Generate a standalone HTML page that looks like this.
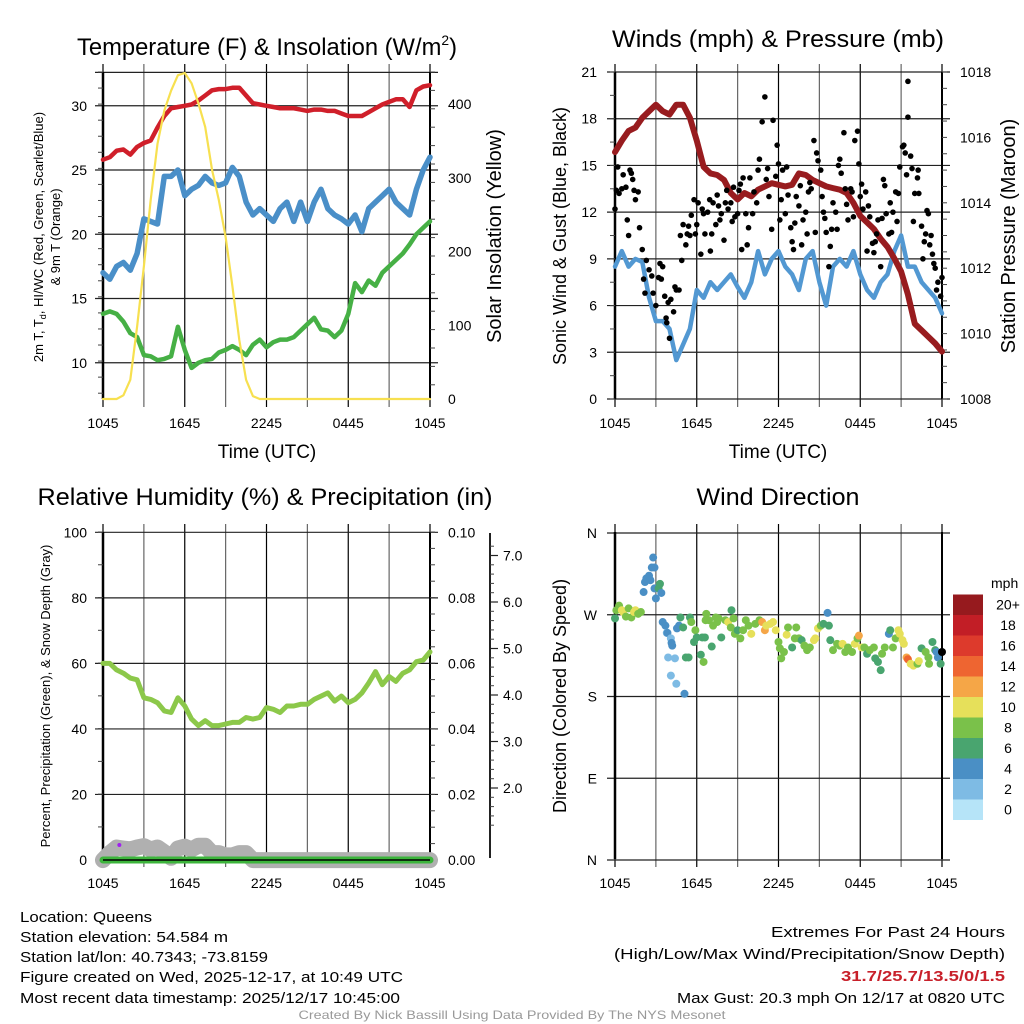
<!DOCTYPE html>
<html><head><meta charset="utf-8"><style>
html,body{margin:0;padding:0;background:#fff;width:1024px;height:1024px;overflow:hidden}
svg{display:block;font-family:"Liberation Sans",sans-serif}
.n{font-family:"Liberation Sans Narrow","Liberation Sans",sans-serif}
</style></head><body>
<svg id="fig" width="1024" height="1024" viewBox="0 0 1024 1024" xmlns="http://www.w3.org/2000/svg">
<text class="n" x="267" y="55" font-size="24" text-anchor="middle" textLength="380" lengthAdjust="spacingAndGlyphs">Temperature (F) &amp; Insolation (W/m<tspan font-size="14" dy="-10">2</tspan><tspan dy="10">)</tspan></text>
<text class="n" x="778" y="47" font-size="24" text-anchor="middle" textLength="332" lengthAdjust="spacingAndGlyphs">Winds (mph) &amp; Pressure (mb)</text>
<text class="n" x="265" y="505" font-size="24" text-anchor="middle" textLength="455" lengthAdjust="spacingAndGlyphs">Relative Humidity (%) &amp; Precipitation (in)</text>
<text class="n" x="778" y="505" font-size="24" text-anchor="middle" textLength="163" lengthAdjust="spacingAndGlyphs">Wind Direction</text>

<text x="267" y="458" font-size="19" text-anchor="middle">Time (UTC)</text>
<text x="778" y="458" font-size="19" text-anchor="middle">Time (UTC)</text>
<text font-size="13" text-anchor="middle" transform="translate(43,237) rotate(-90)">2m T, T<tspan font-size="9" dy="3">d</tspan><tspan dy="-3">, HI/WC (Red, Green, Scarlet/Blue)</tspan></text>
<text font-size="13" text-anchor="middle" transform="translate(60,237) rotate(-90)">&amp; 9m T (Orange)</text>
<text font-size="20" text-anchor="middle" transform="translate(501,236) rotate(-90)">Solar Insolation (Yellow)</text>
<text font-size="18" text-anchor="middle" transform="translate(566,236) rotate(-90)">Sonic Wind &amp; Gust (Blue, Black)</text>
<text font-size="20" text-anchor="middle" transform="translate(1015,236) rotate(-90)">Station Pressure (Maroon)</text>
<text font-size="13" text-anchor="middle" transform="translate(50,696) rotate(-90)">Percent, Precipitation (Green), &amp; Snow Depth (Gray)</text>
<text font-size="18" text-anchor="middle" transform="translate(566,696) rotate(-90)">Direction (Colored By Speed)</text>
<text x="991" y="588" font-size="14">mph</text>

<g class="n" font-size="15">
<text x="20" y="922" textLength="132" lengthAdjust="spacingAndGlyphs">Location: Queens</text>
<text x="20" y="942" textLength="208" lengthAdjust="spacingAndGlyphs">Station elevation: 54.584 m</text>
<text x="20" y="962" textLength="248" lengthAdjust="spacingAndGlyphs">Station lat/lon: 40.7343; -73.8159</text>
<text x="20" y="982" textLength="383" lengthAdjust="spacingAndGlyphs">Figure created on Wed, 2025-12-17, at 10:49 UTC</text>
<text x="20" y="1003" textLength="380" lengthAdjust="spacingAndGlyphs">Most recent data timestamp: 2025/12/17 10:45:00</text>
</g>
<g class="n" font-size="15" text-anchor="end">
<text x="1005" y="937" textLength="234" lengthAdjust="spacingAndGlyphs">Extremes For Past 24 Hours</text>
<text x="1005" y="959" textLength="391" lengthAdjust="spacingAndGlyphs">(High/Low/Max Wind/Precipitation/Snow Depth)</text>
<text x="1005" y="981" fill="#c8202a" font-weight="bold" textLength="164" lengthAdjust="spacingAndGlyphs">31.7/25.7/13.5/0/1.5</text>
<text x="1005" y="1003" textLength="328" lengthAdjust="spacingAndGlyphs">Max Gust: 20.3 mph On 12/17 at 0820 UTC</text>
</g>
<text class="n" x="512" y="1019" font-size="12" fill="#999" text-anchor="middle" textLength="427" lengthAdjust="spacingAndGlyphs">Created By Nick Bassill Using Data Provided By The NYS Mesonet</text>
</svg>
<script>
// ---- data (t = hours since 10:45 UTC) ----
const xTickLabels = ["1045","1645","2245","0445","1045"];
const halfHours = [0,0.5,1,1.5,2,2.5,3,3.5,4,4.5,5,5.5,6,6.5,7,7.5,8,8.5,9,9.5,10,10.5,11,11.5,12,12.5,13,13.5,14,14.5,15,15.5,16,16.5,17,17.5,18,18.5,19,19.5,20,20.5,21,21.5,22,22.5,23,23.5,24];
const tempT = [25.8,26.0,26.5,26.6,26.2,26.8,27.1,27.3,28.3,29.2,29.8,29.9,30.0,30.1,30.4,30.8,31.2,31.3,31.3,31.4,31.4,30.8,30.2,30.1,30.0,29.9,29.8,29.8,29.8,29.7,29.6,29.7,29.7,29.6,29.6,29.4,29.2,29.2,29.2,29.5,29.8,30.1,30.3,30.5,30.5,29.9,31.2,31.5,31.6];
const tempWC = [17.0,16.5,17.5,17.8,17.2,18.5,21.2,21.0,20.8,24.5,24.5,25.0,23.0,23.5,23.8,24.5,24.0,23.8,24.0,25.2,24.5,22.5,21.5,22.0,21.5,21.0,22.0,22.5,21.0,22.5,21.0,22.5,23.5,22.0,21.5,21.2,20.8,21.5,20.2,22.0,22.5,23.0,23.5,22.5,22.0,21.5,23.5,25.0,26.0];
const tempTd = [13.8,14.0,13.8,13.2,12.3,12.0,10.6,10.5,10.2,10.3,10.5,12.8,11.0,9.6,10.0,10.2,10.3,10.8,11.0,11.3,11.0,10.6,11.4,11.8,11.2,11.6,11.8,11.8,12.0,12.5,13.0,13.5,12.6,12.5,12.0,12.5,13.8,16.2,15.5,16.4,16.0,17.0,17.5,18.0,18.5,19.2,20.0,20.5,21.0];
const solar = [0,0,0,5,26,98,180,270,346,391,418,439,442,428,401,369,311,270,220,153,80,26,4,0,0,0,0,0,0,0,0,0,0,0,0,0,0,0,0,0,0,0,0,0,0,0,0,0,0];
const windSpd = [8.5,9.5,8.5,9.0,8.8,6.5,5.0,5.0,4.5,2.5,3.5,4.5,7.0,6.5,7.5,7.0,7.5,8.0,7.2,6.5,7.5,9.5,8.0,9.0,9.5,8.5,8.0,7.0,9.0,9.5,7.5,6.0,8.5,9.0,8.5,9.5,8.0,7.0,6.5,7.5,8.0,9.5,10.5,8.5,8.5,7.5,7.0,6.5,5.5];
const pressure = [1015.55,1015.9,1016.2,1016.3,1016.6,1016.8,1017.0,1016.8,1016.7,1017.0,1017.0,1016.6,1015.9,1015.1,1014.9,1014.85,1014.7,1014.3,1014.1,1014.3,1014.2,1014.4,1014.5,1014.6,1014.55,1014.5,1014.55,1014.9,1014.85,1014.7,1014.6,1014.5,1014.45,1014.4,1014.3,1014.0,1013.6,1013.4,1013.2,1012.9,1012.65,1012.3,1011.9,1011.2,1010.3,1010.1,1009.9,1009.7,1009.45];
const gustT = [0,0.1,0.2,0.3,0.5,0.6,0.8,0.9,1.0,1.1,1.2,1.3,1.4,1.5,1.7,1.8,2.0,2.1,2.2,2.3,2.5,2.7,2.8,3.0,3.2,3.3,3.4,3.5,3.65,3.75,3.8,3.9,4.0,4.1,4.3,4.4,4.5,4.7,4.8,4.9,5.0,5.2,5.3,5.4,5.5,5.6,5.8,5.9,6.0,6.1,6.3,6.4,6.5,6.6,6.8,6.95,7.0,7.1,7.2,7.4,7.5,7.6,7.7,7.8,8.0,8.1,8.2,8.3,8.5,8.6,8.7,8.8,9.0,9.1,9.2,9.3,9.4,9.6,9.7,9.8,9.9,10.1,10.2,10.4,10.5,10.6,10.8,11.0,11.1,11.2,11.3,11.5,11.6,11.8,11.9,12.0,12.1,12.2,12.3,12.5,12.6,12.7,12.9,13.0,13.1,13.2,13.3,13.5,13.6,13.7,13.8,14.0,14.1,14.2,14.3,14.4,14.6,14.7,14.8,14.9,15.1,15.2,15.3,15.4,15.5,15.7,15.8,15.9,16.0,16.2,16.3,16.4,16.5,16.6,16.8,16.9,17.0,17.1,17.3,17.4,17.5,17.6,17.8,17.9,18.0,18.1,18.2,18.4,18.5,18.6,18.7,18.9,19.0,19.1,19.2,19.3,19.5,19.6,19.7,19.8,19.9,20.1,20.2,20.3,20.4,20.6,20.7,20.8,20.9,21.1,21.2,21.3,21.4,21.5,21.5,21.7,21.8,21.9,22.0,22.2,22.25,22.3,22.5,22.6,22.7,22.8,22.9,23.0,23.1,23.2,23.3,23.4,23.5,23.6,23.7,23.9,24.0];
const gustV = [12.2,13.4,14.9,13.2,13.5,14.4,13.6,11.5,10.5,14.7,14.5,14.1,13.4,12.8,13.3,11.0,9.6,7.7,6.8,8.9,8.3,7.9,6.8,6.0,7.8,8.7,7.7,8.5,6.6,5.2,4.9,6.2,3.9,6.4,5.6,7.2,7.0,7.0,10.5,8.9,11.2,9.9,10.6,11.1,10.5,11.8,12.8,10.6,11.2,12.6,9.3,12.2,11.9,10.6,12.0,12.8,9.5,10.6,12.6,11.2,13.1,12.4,11.5,11.9,10.2,12.6,13.4,12.2,12.6,11.4,13.6,11.7,11.9,13.4,13.8,9.6,14.2,11.9,9.9,11.0,14.2,11.9,13.3,12.6,14.7,15.4,17.8,19.4,14.1,14.8,13.0,10.9,17.9,14.3,16.3,15.1,11.5,12.8,14.7,11.9,14.9,13.1,11.0,10.1,9.6,11.3,13.0,12.4,13.7,9.9,11.5,12.0,10.6,13.3,13.9,13.5,16.6,10.7,15.8,15.3,14.7,13.0,12.0,11.6,10.7,8.5,9.8,10.9,12.6,12.0,10.9,15.0,15.4,14.5,17.1,13.5,12.5,11.5,13.5,13.3,11.7,16.6,17.2,15.1,13.0,13.8,12.2,13.3,9.5,12.4,11.7,10.0,9.4,10.1,10.6,11.5,8.5,11.6,14.1,13.7,11.9,10.6,12.6,10.7,12.0,13.3,11.4,13.2,14.9,16.2,16.3,15.8,14.4,20.4,18.1,15.6,14.8,11.4,13.2,14.2,14.7,13.2,11.1,9.0,10.1,10.6,12.1,11.9,9.9,10.5,9.3,8.7,8.4,7.0,7.5,6.6,7.8];
const rh = [60,60,58,57,55.5,55,49.5,49,48,45.5,45,49.5,47,43,41,42.5,41,41,41.5,42,42,43.5,43,43.5,46.5,46,45,47,47,47.5,47.5,49,50,51,48.5,50,48,49,51,54,57.5,53.5,56,54.5,57,58,60.5,61,63.5];
const snowDepth = [0.45,0.6,0.72,0.7,0.68,0.72,0.75,0.68,0.72,0.62,0.5,0.7,0.74,0.68,0.76,0.76,0.6,0.6,0.55,0.55,0.6,0.6,0.45,0.45,0.45,0.45,0.45,0.45,0.45,0.45,0.45,0.45,0.45,0.45,0.45,0.45,0.45,0.45,0.45,0.45,0.45,0.45,0.45,0.45,0.45,0.45,0.45,0.45,0.45];
const precip = [0,0,0,0,0,0,0,0,0,0,0,0,0,0,0,0,0,0,0,0,0,0,0,0,0,0,0,0,0,0,0,0,0,0,0,0,0,0,0,0,0,0,0,0,0,0,0,0,0];
const dirT = [0,0.1,0.3,0.5,0.6,0.8,1.0,1.2,1.4,1.5,1.7,1.9,2.1,2.2,2.3,2.5,2.6,2.7,2.8,2.9,2.9,3.0,3.2,3.3,3.4,3.5,3.7,3.8,3.85,3.9,4.1,4.15,4.2,4.4,4.1,4.5,4.55,4.7,4.8,5.0,5.1,5.2,5.4,5.5,5.6,5.8,5.9,6.0,6.3,6.5,6.4,6.6,6.65,6.7,6.9,7.1,7.2,7.4,7.5,7.6,7.8,8.1,8.3,8.5,8.55,8.7,8.8,9.0,9.2,9.4,9.6,9.8,10.0,10.3,10.6,10.8,11.0,11.1,11.4,11.6,11.8,12.0,12.1,12.2,12.4,12.6,12.7,13.0,13.2,13.3,13.5,13.7,13.9,14.1,14.3,14.6,14.7,14.9,15.1,15.3,15.6,15.7,15.8,16.0,16.3,16.5,16.7,16.9,17.1,17.4,17.6,17.8,17.9,18.1,18.3,18.5,18.7,19.0,19.1,19.3,19.5,19.6,19.8,20.1,20.2,20.4,20.6,20.8,20.9,21.1,21.2,21.4,21.5,21.7,21.9,22.2,22.3,22.5,22.8,23.0,23.05,23.3,23.5,23.6,23.7,23.9,24.0];
const dirDeg = [266,275,280,275,273,268,277,267,273,275,271,273,295,306,310,313,308,322,333,322,299,288,299,304,294,262,258,250,250,223,244,239,236,222,203,194,255,258,267,256,183,223,223,267,262,240,253,245,226,218,245,245,264,271,264,235,258,267,262,266,245,264,262,256,275,266,249,253,244,253,264,258,249,260,264,262,253,258,260,262,253,240,233,222,229,248,256,234,244,256,244,242,236,231,234,242,244,255,258,260,272,258,242,231,238,236,238,229,234,229,238,244,247,234,234,227,231,234,222,218,209,227,234,249,253,234,244,253,249,242,238,223,221,216,214,216,219,233,229,223,216,240,231,229,223,216,229];
const dirSpd = [7,9,9,11,11,9,9,9,11,11,9,9,5,5,5,5,5,5,5,5,5,5,7,7,5,5,5,3,5,3,3,5,5,3,3,3,5,5,7,7,5,7,7,7,9,7,9,7,7,9,7,7,9,9,9,7,9,9,9,9,7,9,11,9,7,9,9,7,9,9,9,9,11,9,9,13,13,11,11,11,11,9,9,9,9,11,9,7,9,9,9,7,9,9,9,11,11,11,9,7,5,7,7,9,9,9,11,9,9,9,11,9,13,11,9,7,9,9,7,7,7,9,9,5,7,9,9,11,11,11,11,13,14.5,11,11,9,11,7,9,9,9,7,7,5,5,7];
const speedBins = ["0","2","4","6","8","10","12","14","16","18","20+"];
const binColors = ["#b6e4f8","#7ebbe4","#4a8fc5","#49a56f","#7ac14a","#e6e05a","#f5a647","#ee6531","#dd3a2c","#c21e26","#961a1e"];
const tempTicks = [10,15,20,25,30];
const solarTicks = [0,100,200,300,400];
const windTicks = [0,3,6,9,12,15,18,21];
const pressTicks = [1008,1010,1012,1014,1016,1018];
const rhTicks = [0,20,40,60,80,100];
const precipTicks = ["0.00","0.02","0.04","0.06","0.08","0.10"];
const snowTicks = [2,3,4,5,6,7];
const dirTicks = ["N","E","S","W","N"];

// ---- helpers ----
const NS = "http://www.w3.org/2000/svg";
const fig = document.getElementById("fig");
function mk(tag, attrs, parent){const e=document.createElementNS(NS,tag);for(const k in attrs)e.setAttribute(k,attrs[k]);(parent||fig).appendChild(e);return e;}
const PW = 327, PH = 327;
function xs(x0){return t=>x0+t*PW/24;}
function poly(xf,yf,ts,vs){return ts.map((t,i)=>xf(t).toFixed(1)+","+yf(vs[i]).toFixed(1)).join(" ");}

function frame(x0,y0,yVals,yFn,name,rightExt){
  const g = mk("g",{});
  
  
  const X = xs(x0);
  for(let h=0;h<=24;h+=3){
    const l = mk("line",{x1:X(h),x2:X(h),y1:y0-8,y2:y0+PH+8,stroke:(h%6===0?"#000":"#666"),"stroke-width":1.2},g);
    
    
  }
  yVals.forEach(v=>{
    const y=yFn(v);
    const l = mk("line",{x1:x0-8,x2:x0+PW+(rightExt||8),y1:y,y2:y,stroke:"#222","stroke-width":1.2},g);
    
    
  });
  mk("line",{x1:x0,x2:x0,y1:y0,y2:y0+PH,stroke:"#000","stroke-width":2.5},g);
  mk("line",{x1:x0+PW,x2:x0+PW,y1:y0,y2:y0+PH,stroke:"#000","stroke-width":2},g);
  xTickLabels.forEach((s,i)=>{
    const tx = mk("text",{x:X(i*6),y:y0+PH+29,"font-size":14,"text-anchor":"middle"},g);
    
    
    tx.textContent=s;
  });
  return X;
}
function leftLabels(x,vals,yFn,labels){
  vals.forEach((v,i)=>{const t=mk("text",{x:x,y:yFn(v)+5,"font-size":14,"text-anchor":"end"});
    
    
    t.textContent=labels?labels[i]:v;});
}
function rightLabels(x,vals,yFn,labels){
  vals.forEach((v,i)=>{const t=mk("text",{x:x,y:yFn(v)+5,"font-size":14,"text-anchor":"start"});
    
    
    t.textContent=labels?labels[i]:v;});
}
function minor(x,y1,y2,step,dir){
  for(let y=y1;y<=y2+0.1;y+=step){mk("line",{x1:x,x2:x+dir*5,y1:y,y2:y,stroke:"#444","stroke-width":1});}
}
function line(xf,yf,ts,vs,color,w,name){
  const p = mk("polyline",{points:poly(xf,yf,ts,vs),fill:"none",stroke:color,"stroke-width":w,"stroke-linejoin":"round","stroke-linecap":"round"});
  
  
  return p;
}

// ---- panel 1: temperature ----
const yT = v=>399-(v-7.18)*12.85;
const yS = v=>399-v*0.7375;
const X1 = frame(103,72,tempTicks.concat([32.6]),yT,"temperature",8);
minor(103,72,399,16.06,-1);
minor(430,72,399,18.4,1);
leftLabels(87,tempTicks,yT);
rightLabels(448,solarTicks,yS);
line(X1,yT,halfHours,tempT,"#d01f2a",4.5,"temperature-line");
line(X1,yT,halfHours,tempWC,"#4a8fc8",5.5,"wind-chill-line");
line(X1,yT,halfHours,tempTd,"#46b045",4.5,"dewpoint-line");
line(X1,yS,halfHours,solar,"#f7e050",2.2,"solar-insolation-line");

// ---- panel 2: winds ----
const yW = v=>399-v*PH/21;
const yP = p=>399-(p-1008)*32.7;
const X2 = frame(615,72,windTicks,yW,"winds",8);
minor(942,72,399,16.35,1);
minor(615,72,399,23.36,-1);
leftLabels(597,windTicks,yW);
rightLabels(960,pressTicks,yP);
line(X2,yW,halfHours,windSpd,"#5298d2",4.5,"sonic-wind-line");
line(X2,yP,halfHours,pressure,"#981c1f",6,"pressure-line");
gustT.forEach((t,i)=>{
  const c = mk("circle",{cx:X2(t),cy:yW(gustV[i]),r:2.8,fill:"#000"});
  
  
});

// ---- panel 3: humidity ----
const yR = v=>860-v*3.277;
const ySn = s=>881-s*46.5;
const X3 = frame(103,532,rhTicks,yR,"humidity",8);
minor(103,532,860,32.77,-1);
minor(430,532,860,16.4,1);
leftLabels(87,rhTicks,yR);
rightLabels(448,rhTicks,yR,precipTicks);
const snowAx = mk("line",{x1:490,x2:490,y1:533,y2:858,stroke:"#222","stroke-width":2});


for(let s=1.2;s<=7.4;s+=0.2){mk("line",{x1:490,x2:494,y1:ySn(s),y2:ySn(s),stroke:"#444","stroke-width":1});}
snowTicks.forEach(s=>{
  mk("line",{x1:490,x2:498,y1:ySn(s),y2:ySn(s),stroke:"#222","stroke-width":1.2});
  const t=mk("text",{x:503,y:ySn(s)+5,"font-size":14});
  
  
  t.textContent=s.toFixed(1);
});
line(X3,ySn,halfHours,snowDepth,"#b0b0b0",16,"snow-depth-line");
line(X3,v=>yR(v*1000),halfHours,precip,"#3db53c",7,"precipitation-line");
mk("line",{x1:103,x2:430,y1:860,y2:860,stroke:"#000","stroke-width":1.5});
line(X3,yR,halfHours,rh,"#8cc84a",5,"relative-humidity-line");
const pdot = mk("circle",{cx:X3(1.2),cy:845,r:2,fill:"#a020f0"});



// ---- panel 4: wind direction ----
const yD = d=>860-d*PH/360;
const X4 = frame(615,532,[0,90,180,270,360],yD,"direction",8);
leftLabels(597,[0,90,180,270,360],yD,dirTicks);
dirT.forEach((t,i)=>{
  const bin = Math.min(10,Math.max(0,Math.floor(dirSpd[i]/2)));
  const c = mk("circle",{cx:X4(t),cy:yD(dirDeg[i]),r:4,fill:binColors[bin]});
  
  
});
speedBins.forEach((s,i)=>{
  const y = 799.5 - i*20.5;
  const r = mk("rect",{x:953,y:y,width:30,height:20.5,fill:binColors[i]});
  
  
  const t = mk("text",{x:1008,y:y+15,"font-size":14,"text-anchor":"middle"});
  
  
  t.textContent=s;
});
</script>
</body></html>
